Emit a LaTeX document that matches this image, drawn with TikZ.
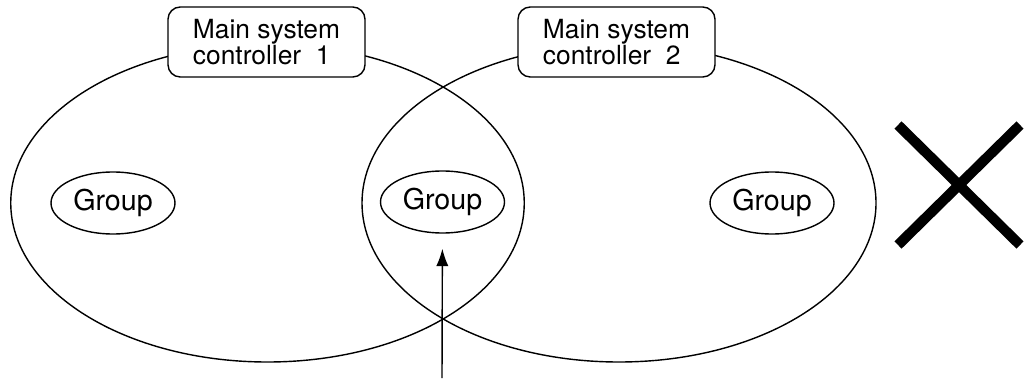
\documentclass[tikz,border=0pt]{standalone}
\usepackage{fontspec}
\setmainfont{TeX Gyre Heros}
\usepackage{tikz}
\usetikzlibrary{calc}
\usetikzlibrary{arrows.meta}
\usetikzlibrary{shapes}
\usetikzlibrary{positioning}
\usetikzlibrary{shapes.geometric}
\begin{document}
\begin{tikzpicture}[font=\fontsize{15}{14}\selectfont, line width=0.8pt]
\useasboundingbox (0, 0) rectangle (20.5, 7.56);
\node [ellipse, draw=black, minimum width=10.27cm, minimum height=6.36cm] (SYS1) at (5.35, 3.5) {};
\node [ellipse, draw=black, minimum width=10.28cm, minimum height=6.36cm] (SYS2) at (12.38, 3.5) {};
\node [ellipse, draw=black, minimum width=2.48cm, minimum height=1.24cm, inner sep=0pt, font=\fontsize{16.3}{18}\selectfont] (G1) at (2.26, 3.5) {Group};
\node [ellipse, draw=black, minimum width=2.48cm, minimum height=1.24cm, inner sep=0pt, font=\fontsize{16.3}{18}\selectfont] (G12) at (8.85, 3.52) {Group};
\node [ellipse, draw=black, minimum width=2.48cm, minimum height=1.24cm, inner sep=0pt, font=\fontsize{16.3}{18}\selectfont] (G2) at (15.44, 3.5) {Group};
\node [rectangle, rounded corners=7pt, draw=black, fill=white, align=left, minimum width=3.94cm, minimum height=1.4cm] (MSC1) at (5.33, 6.72) {Main system\\controller~~1};
\node [rectangle, rounded corners=7pt, draw=black, fill=white, align=left, minimum width=3.94cm, minimum height=1.4cm] (MSC2) at (12.33, 6.72) {Main system\\controller~~2};
\coordinate (foot) at (8.84, 0);
\draw [-{Latex[length=10pt, width=7pt]}, draw = black, shorten >= 8.5pt] (foot) to (G12);
\draw [line width=5.8pt] (17.96, 5.06) -- (20.4, 2.66);
\draw [line width=5.8pt] (17.96, 2.66) -- (20.4, 5.06);
\end{tikzpicture}
\end{document}
